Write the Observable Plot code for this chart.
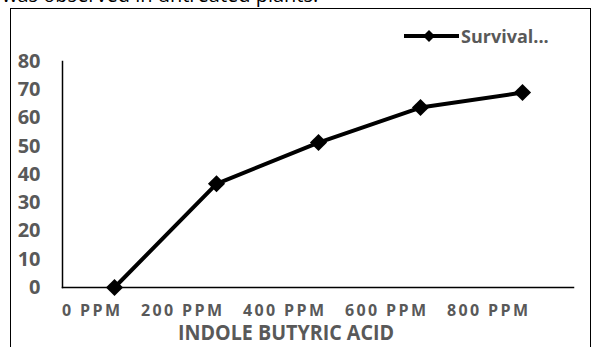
<!DOCTYPE html>
<html>
<head>
<meta charset="utf-8">
<script src="https://cdn.jsdelivr.net/npm/d3@7"></script>
<script src="https://cdn.jsdelivr.net/npm/@observablehq/plot@0.6"></script>
<style>
  html, body { margin: 0; padding: 0; background: #fff; width: 592px; height: 347px; overflow: hidden; position: relative; font-family: "Open Sans", sans-serif; }
  #above { position: absolute; left: 2px; top: -15px; font-size: 20px; line-height: 20px; color: #000; white-space: nowrap; }
  #box { position: absolute; left: 10px; top: 8px; width: 579px; height: 360px; border: 1.5px solid #000; }
  #chart { position: absolute; left: 0; top: 0; }
  #legend { position: absolute; left: 403px; top: 24px; display: flex; align-items: center; font-weight: bold; color: #595959; font-size: 18px; }
  .xaxis text { letter-spacing: 2.4px; }
</style>
</head>
<body>
<div id="above">was observed in untreated plants.</div>
<div id="box"></div>
<div id="chart"></div>
<div id="legend">
  <svg width="57" height="22" style="display:block"><line x1="1" y1="11" x2="56" y2="11" stroke="#000" stroke-width="4"/><path d="M26,5 L32,11 L26,17 L20,11 Z" fill="#000"/></svg>
  <span id="legendText" style="margin-left:1px"></span>
</div>
<script>
const doses = ["0 PPM", "200 PPM", "400 PPM", "600 PPM", "800 PPM"];
const survival = [0, 36.7, 51.3, 63.7, 69.0];
const yTicks = [0, 10, 20, 30, 40, 50, 60, 70, 80];
const seriesName = "Survival...";
const xTitle = "INDOLE BUTYRIC ACID";

document.getElementById("legendText").textContent = seriesName;

const data = doses.map((d, i) => ({dose: d, value: survival[i]}));

const plot = Plot.plot({
  width: 592,
  height: 347,
  marginLeft: 62,
  marginRight: 19,
  marginTop: 61,
  marginBottom: 60,
  style: {background: "transparent", fontFamily: "Open Sans, sans-serif"},
  x: {type: "point", domain: doses, padding: 0.5, label: null},
  y: {domain: [0, 80], label: null},
  marks: [
    Plot.axisY({ticks: yTicks, tickSize: 0, tickPadding: 22, fontSize: 20, fontWeight: "bold", fill: "#595959", tickFormat: d => String(d), label: null}),
    Plot.axisX({tickSize: 0, tickPadding: 17, fontSize: 16, fontWeight: "bold", fill: "#595959", textAnchor: "end", dx: 8, label: null, className: "xaxis"}),
    Plot.frame({anchor: "left", stroke: "#000", strokeWidth: 1.5}),
    Plot.frame({anchor: "bottom", stroke: "#000", strokeWidth: 1.5}),
    Plot.line(data, {x: "dose", y: "value", stroke: "#000", strokeWidth: 4}),
    Plot.dot(data, {x: "dose", y: "value", symbol: "diamond2", r: 7.7, fill: "#000", stroke: null}),
    Plot.text([xTitle], {frameAnchor: "bottom", dx: -32, dy: 52, fontSize: 21, fontWeight: "bold", fill: "#595959", className: "xtitle"})
  ]
});
document.getElementById("chart").appendChild(plot);
const t = plot.querySelector(".xtitle text");
if (t) { t.setAttribute("textLength", "216"); t.setAttribute("lengthAdjust", "spacingAndGlyphs"); }
</script>
</body>
</html>
